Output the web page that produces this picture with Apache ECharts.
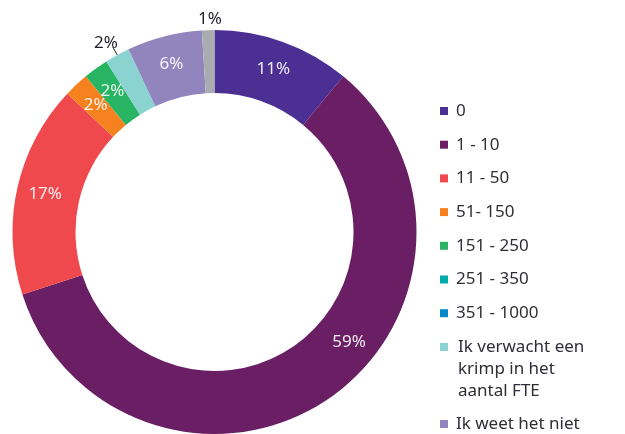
<!DOCTYPE html>
<html>
<head>
<meta charset="utf-8">
<script src="https://cdn.jsdelivr.net/npm/echarts@6/dist/echarts.min.js"></script>
<style>
  html, body { margin: 0; padding: 0; background: #fff; }
  #chart { width: 625px; height: 434px; }
</style>
</head>
<body>
<div id="chart"></div>
<script>
// categories + values (percent)
const categories = ['0', '1 - 10', '11 - 50', '51- 150', '151 - 250', '251 - 350', '351 - 1000',
  'Ik verwacht een\nkrimp in het\naantal FTE', 'Ik weet het niet', 'Overig'];
const values = [11, 59, 17, 2, 2, 0, 0, 2, 6, 1];
const colors = ['#4b2f93', '#6a1e64', '#ef484d', '#f5821f', '#27b563', '#00aaa8', '#0088c9',
  '#8bd3d1', '#9285be', '#a9adb0'];
const outsideLabels = [7, 9];

const FONT = 'Noto Sans';
const chart = echarts.init(document.getElementById('chart'), null, { renderer: 'canvas' });

const data = categories.map((name, i) => {
  const item = { name: name, value: values[i], itemStyle: { color: colors[i] } };
  if (values[i] === 0) {
    item.label = { show: false };
    item.labelLine = { show: false };
  } else if (outsideLabels.includes(i)) {
    item.label = { position: 'outside', color: '#1f1f2b' };
    item.labelLine = { show: i === 7, length: 9, length2: 0, lineStyle: { color: '#1f1f2b', width: 1 } };
  }
  return item;
});

// label nudges (dx, dy) per slice
const labelShift = { 1: [37, -33], 7: [10, -4], 9: [19, -2] };

function legendBase(names, top, padLeft, lineHeight) {
  return {
    orient: 'vertical',
    left: 435,
    top: top,
    data: names,
    icon: 'rect',
    itemWidth: 8,
    itemHeight: 8,
    itemGap: 13.7,
    selectedMode: false,
    textStyle: {
      fontFamily: FONT,
      fontSize: 17,
      color: '#2e2e38',
      lineHeight: lineHeight || 20,
      padding: [0, 0, 0, padLeft]
    }
  };
}

// multi-line item: first line should sit next to the marker
const krimpLegend = legendBase([categories[7]], 287, 5, 22);
krimpLegend.formatter = name => '\n\n' + name;

const option = {
  animation: false,
  legend: [
    legendBase(categories.slice(0, 7), 96, 3),
    krimpLegend,
    legendBase([categories[8]], 409, 3)
  ],
  series: [{
    type: 'pie',
    center: [214.5, 232],
    radius: [139, 202],
    startAngle: 90,
    clockwise: true,
    avoidLabelOverlap: false,
    data: data,
    label: {
      show: true,
      position: 'inside',
      formatter: '{c}%',
      fontFamily: FONT,
      fontSize: 17,
      color: 'rgba(255,255,255,0.9)'
    },
    labelLayout: function (params) {
      const s = labelShift[params.dataIndex];
      if (s) return { dx: s[0], dy: s[1] };
      return {};
    }
  }]
};

chart.setOption(option);
</script>
</body>
</html>
